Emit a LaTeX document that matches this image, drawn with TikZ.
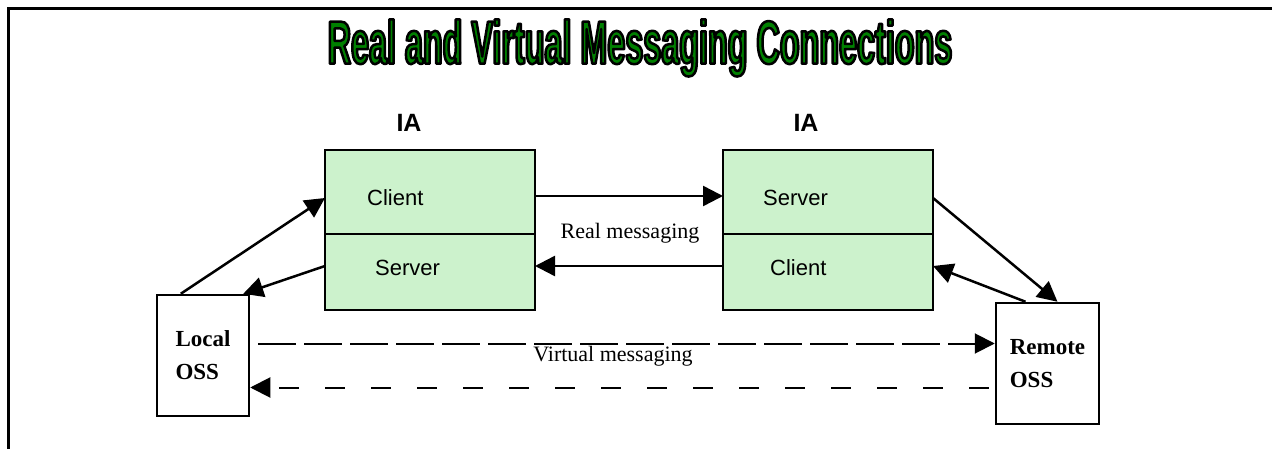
\documentclass[tikz,border=0pt]{standalone}
\usepackage{fontspec}
\setmainfont{Liberation Serif}
\setsansfont{Liberation Sans}
\newfontfamily\titlefont[FakeStretch=0.53]{Liberation Sans}
\usetikzlibrary{arrows.meta,positioning,calc}
\definecolor{iagreen}{RGB}{204,242,204}
\definecolor{titlegreen}{RGB}{0,128,0}
% outlined title text: green fill, black stroke
\newcommand{\outlined}[1]{\special{pdf:literal direct 0 0 0 RG 2.5 w 1 j 2 Tr}#1\special{pdf:literal direct 0 Tr}}
\tikzset{
  half/.style={draw, line width=2.5pt, fill=iagreen, minimum width=210pt, inner sep=0pt, outer sep=0pt},
  oss/.style={draw, line width=2.5pt, fill=white, minimum height=121pt, inner sep=0pt,
    align=left, font=\bfseries\fontsize{23}{33}\selectfont},
  msg/.style={line width=2.5pt, -{Triangle[length=20pt,width=20pt]}},
  virt/.style={line width=2pt, dash pattern=on 38pt off 8pt, -{Triangle[length=20pt,width=20pt]}},
  virtback/.style={line width=2pt, dash pattern=on 20pt off 26pt, -{Triangle[length=20pt,width=20pt]}},
  sflabel/.style={font=\sffamily\fontsize{22}{24}\selectfont, anchor=west, inner sep=0pt},
  rmlabel/.style={font=\fontsize{22}{24}\selectfont, inner sep=0pt},
  ialabel/.style={font=\sffamily\bfseries\fontsize{25}{27}\selectfont, inner sep=0pt},
  headline/.style={font=\titlefont\bfseries\fontsize{61}{61}\selectfont, text=titlegreen, inner sep=0pt},
}

\begin{document}
\begin{tikzpicture}[x=1pt, y=-1pt]
    \useasboundingbox (0,0) rectangle (1272,449);
    \draw [line width=3pt] (8.5,449) -- (8.5,8.5) -- (1272,8.5); % Frame
    \node [headline] (title) at (640,48) {\outlined{Real and Virtual Messaging Connections}};
    % IA boxes
    \node [half, minimum height=84pt] (lcli) at (430,192) {};
    \node [half, minimum height=76pt, below=0pt of lcli] (lsrv) {};
    \node [half, minimum height=84pt] (rsrv) at (828,192) {};
    \node [half, minimum height=76pt, below=0pt of rsrv] (rcli) {};
    \node [ialabel] (lia) at (409,123) {IA};
    \node [ialabel] (ria) at (806,123) {IA};
    \node [sflabel] (lclitxt) at (367,198) {Client};
    \node [sflabel] (lsrvtxt) at (375,268) {Server};
    \node [sflabel] (rsrvtxt) at (763,198) {Server};
    \node [sflabel] (rclitxt) at (770,268) {Client};
    % OSS boxes
    \node [oss, minimum width=92pt] (loss) at (203,355.5) {Local\\OSS};
    \node [oss, minimum width=103pt] (ross) at (1047.5,363.5) {Remote\\OSS};
    % Real messaging
    \draw [msg] ([xshift=25pt]loss.north west) -- ([yshift=-6pt]lcli.west);
    \draw [msg] ([yshift=6pt]lsrv.west) -- ([xshift=-7pt]loss.north east);
    \draw [msg] ([yshift=-4pt]lcli.east) -- ([yshift=-4pt]rsrv.west);
    \draw [msg] ([yshift=6pt]rcli.west) -- ([yshift=6pt]lsrv.east);
    \draw [msg] ([yshift=-6pt]rsrv.east) -- ([xshift=10pt]ross.north);
    \draw [msg] ([xshift=-22pt]ross.north) -- ([yshift=6pt]rcli.east);
    \node [rmlabel] (realtxt) at (630,233) {Real messaging};
    % Virtual messaging
    \draw [virt] ([xshift=8pt,yshift=12pt]loss.east) -- ([yshift=20pt]ross.west);
    \draw [virtback] ([xshift=-6pt,yshift=-24pt]ross.west) -- ([yshift=-32pt]loss.east);
    \node [rmlabel] (virttxt) at (613,356) {Virtual messaging};
\end{tikzpicture}
\end{document}
